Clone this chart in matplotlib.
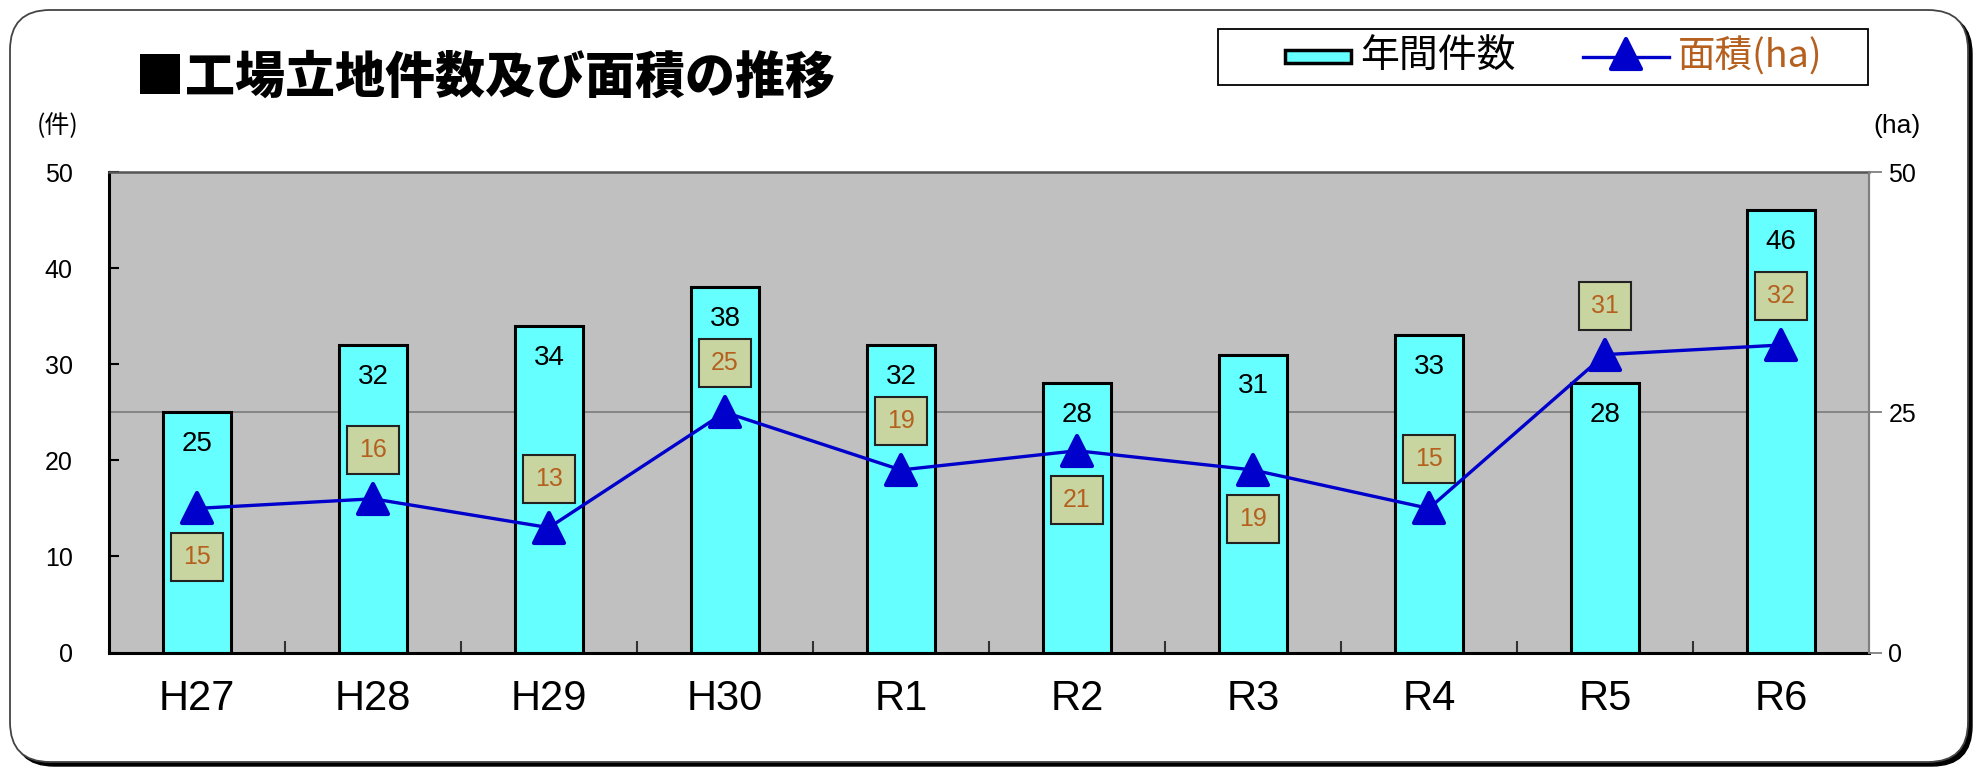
import matplotlib
matplotlib.use("Agg")
import matplotlib.pyplot as plt
from matplotlib.patches import FancyBboxPatch, Rectangle
from matplotlib.lines import Line2D
from matplotlib.markers import MarkerStyle
from matplotlib.transforms import IdentityTransform

plt.rcParams["font.family"] = ["Liberation Sans", "Noto Sans CJK JP"]

YEARS = ["H27", "H28", "H29", "H30", "R1", "R2", "R3", "R4", "R5", "R6"]
COUNTS = [25, 32, 34, 38, 32, 28, 31, 33, 28, 46]
AREA_HA = [15, 16, 13, 25, 19, 21, 19, 15, 31, 32]
# placement of the area label box relative to its marker (+1 above, -1 below)
AREA_LABEL_SIDE = [-1, 1, 1, 1, 1, -1, -1, 1, 1, 1]

BAR_COLOR = "#66ffff"
LINE_COLOR = "#0000cc"
AREA_TEXT = "#b5601f"
BOX_FILL = "#c8d5a0"


def tri():
    return MarkerStyle("^", joinstyle="round")


def main():
    fig = plt.figure(figsize=(19.83, 7.7), dpi=100)
    ident = IdentityTransform()

    # rounded frame with a dark shadow at bottom/right
    fig.add_artist(FancyBboxPatch((14, 4), 1958, 752, boxstyle="round,pad=0,rounding_size=40",
                                  transform=ident, facecolor="black", edgecolor="black", zorder=0))
    fig.add_artist(FancyBboxPatch((10, 8), 1958, 752, boxstyle="round,pad=0,rounding_size=40",
                                  transform=ident, facecolor="white", edgecolor="#444444",
                                  lw=1.3, zorder=0))

    x = list(range(len(YEARS)))

    ax = fig.add_axes([0.0549, 0.1525, 0.8876, 0.6241])
    ax.set_facecolor("#c0c0c0")
    ax.set_zorder(1)
    ax.axhline(25, color="#808080", lw=1.3, zorder=1)
    ax.bar(x, COUNTS, width=0.39, color=BAR_COLOR, edgecolor="black", lw=2.2, zorder=2)
    for xi, c in zip(x, COUNTS):
        ax.text(xi, c - 3.3, str(c), ha="center", va="center", fontsize=20, zorder=3)

    ax.set_xlim(-0.5, len(YEARS) - 0.5)
    ax.set_ylim(0, 50)
    ax.set_yticks(range(0, 51, 10))
    ax.tick_params(axis="y", direction="in", length=7, width=1.5, labelsize=18, pad=26)
    ax.set_xticks(x)
    ax.set_xticklabels(YEARS, fontsize=30)
    ax.tick_params(axis="x", length=0, pad=19)
    ax.set_xticks([i + 0.5 for i in x[:-1]], minor=True)
    ax.tick_params(axis="x", which="minor", direction="in", length=9, width=1.5, color="#333333")
    for side in ("left", "bottom"):
        ax.spines[side].set_color("black")
        ax.spines[side].set_linewidth(2.2)
    ax.spines["top"].set_color("#555555")
    ax.spines["top"].set_linewidth(1.8)
    ax.spines["right"].set_color("#808080")
    ax.spines["right"].set_linewidth(1.5)

    ax2 = ax.twinx()
    ax2.plot(x, AREA_HA, color=LINE_COLOR, lw=2.4, marker=tri(), ms=21, mew=3, zorder=4)
    for xi, a, side in zip(x, AREA_HA, AREA_LABEL_SIDE):
        ax2.text(xi, a + 5.1 * side, str(a), ha="center", va="center", fontsize=18,
                 color=AREA_TEXT, zorder=5,
                 bbox=dict(boxstyle="square,pad=0.48", facecolor=BOX_FILL,
                           edgecolor="#222222", lw=1.5))
    ax2.set_ylim(0, 50)
    ax2.set_yticks([0, 25, 50])
    ax2.tick_params(axis="y", direction="out", length=9, width=1.3, color="#808080",
                    labelsize=18, pad=5)
    for side in ("left", "bottom", "top"):
        ax2.spines[side].set_visible(False)
    ax2.spines["right"].set_color("#808080")
    ax2.spines["right"].set_linewidth(1.5)

    # axis unit labels and title
    fig.text(58 / 1983, 1 - 126 / 770, "(件)", ha="center", va="center", fontsize=18,
             family="Noto Sans CJK JP")
    fig.text(1897 / 1983, 1 - 126 / 770, "(ha)", ha="center", va="center", fontsize=19)
    fig.text(0.068, 0.8987, "■工場立地件数及び面積の推移", ha="left", va="center",
             fontsize=36, fontweight="heavy", family="Noto Sans CJK JP")

    # legend drawn by hand
    fig.add_artist(Rectangle((1218, 685), 650, 56, transform=ident, facecolor="white",
                             edgecolor="black", lw=1.3))
    fig.add_artist(Rectangle((1285, 707), 66, 13, transform=ident, facecolor=BAR_COLOR,
                             edgecolor="black", lw=2.5))
    fig.text(1360 / 1983, 713 / 770, "年間件数", ha="left", va="center", fontsize=28,
             family="Noto Sans CJK JP")
    fig.add_artist(Line2D([1583, 1669], [713, 713], transform=ident, color=LINE_COLOR, lw=2.4))
    fig.add_artist(Line2D([1626], [716], transform=ident, color=LINE_COLOR, marker=tri(),
                          ms=21, mew=3))
    fig.text(1678 / 1983, 713 / 770, "面積(ha)", ha="left", va="center", fontsize=27,
             color=AREA_TEXT, family=["Noto Sans CJK JP", "DejaVu Sans"])

    fig.savefig("out.png", dpi=100)
    plt.close(fig)


if __name__ == "__main__":
    main()
